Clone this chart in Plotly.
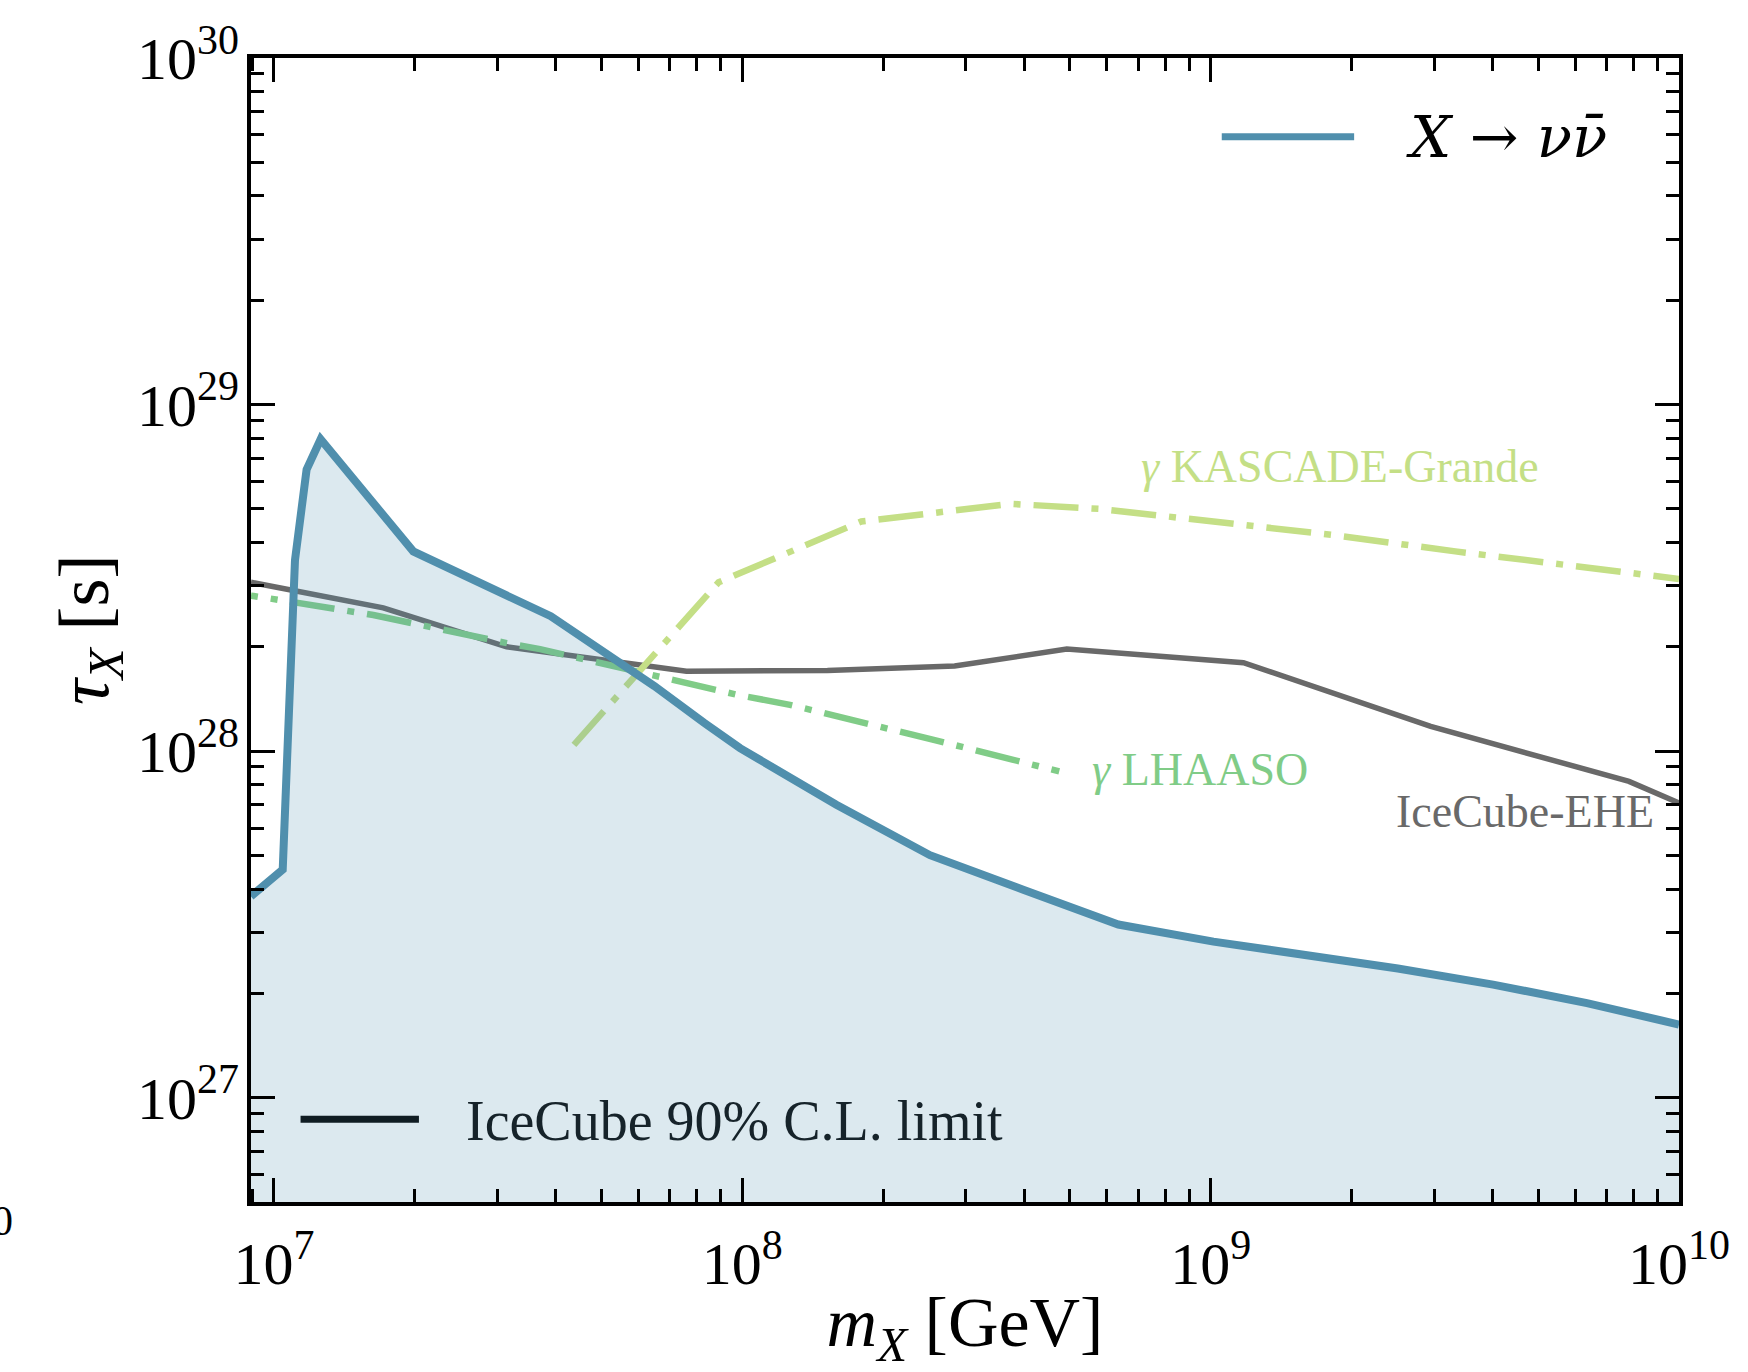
import plotly.graph_objects as go

# ---- data: mass m_X [GeV] and lifetime tau_X [s] ----
nu_mass = [8.93e6, 1.044e7, 1.109e7, 1.174e7, 1.258e7, 1.984e7, 3.90e7, 6.49e7,
           8.30e7, 9.89e7, 1.588e8, 2.516e8, 3.98e8, 6.35e8, 1.014e9, 1.685e9,
           2.51e9, 4.01e9, 6.36e9, 1.0e10]
nu_tau = [3.81e27, 4.55e27, 3.56e28, 6.49e28, 7.94e28, 3.77e28, 2.45e28, 1.54e28,
          1.205e28, 1.02e28, 7.0e27, 5.01e27, 3.98e27, 3.16e27, 2.82e27, 2.56e27,
          2.36e27, 2.12e27, 1.875e27, 1.626e27]

ehe_mass = [8.93e6, 1.712e7, 3.14e7, 7.60e7, 1.52e8, 2.84e8, 4.93e8, 1.175e9,
            2.95e9, 7.82e9, 1.0e10]
ehe_tau = [3.07e28, 2.59e28, 2.0e28, 1.70e28, 1.71e28, 1.76e28, 1.97e28, 1.80e28,
           1.178e28, 8.18e27, 7.08e27]

lhaaso_dot_mass = [8.93e6, 1.082e7]
lhaaso_dot_tau = [2.81e28, 2.70e28]
lhaaso_mass = [1.082e7, 1.63e7, 3.14e7, 3.70e7, 9.73e7, 1.264e8, 2.55e8, 4.75e8]
lhaaso_tau = [2.70e28, 2.47e28, 2.05e28, 1.97e28, 1.455e28, 1.36e28, 1.08e28, 8.74e27]

kascade_mass = [4.37e7, 8.90e7, 1.796e8, 3.75e8, 5.80e8, 1.81e9, 3.33e9, 1.0e10]
kascade_tau = [1.043e28, 3.07e28, 4.60e28, 5.17e28, 5.0e28, 4.21e28, 3.77e28, 3.14e28]

x_ticks = [1e7, 1e8, 1e9, 1e10]
x_tick_text = ["10<sup>7</sup>", "10<sup>8</sup>", "10<sup>9</sup>", "10<sup>10</sup>"]
y_ticks = [1e27, 1e28, 1e29, 1e30]
y_tick_text = ["10<sup>27</sup>", "10<sup>28</sup>", "10<sup>29</sup>", "10<sup>30</sup>"]

# ---- styles ----
FONT = "Liberation Serif"
MATH_FONT = "DejaVu Serif"
BLUE = "#508fad"
GRAY = "#696969"
LHAASO_GREEN = "#80cc87"
KASCADE_GREEN = "#c4df86"
DASHDOT = "45px,13px,7px,13px"

fig = go.Figure()

fig.add_trace(go.Scatter(x=ehe_mass, y=ehe_tau, mode="lines",
                         line=dict(color=GRAY, width=5.5), showlegend=False))
fig.add_trace(go.Scatter(x=lhaaso_dot_mass, y=lhaaso_dot_tau, mode="lines",
                         line=dict(color=LHAASO_GREEN, width=6.5, dash="7px,13px"),
                         showlegend=False))
fig.add_trace(go.Scatter(x=lhaaso_mass, y=lhaaso_tau, mode="lines",
                         line=dict(color=LHAASO_GREEN, width=6.5, dash=DASHDOT),
                         showlegend=False))
fig.add_trace(go.Scatter(x=kascade_mass, y=kascade_tau, mode="lines",
                         line=dict(color=KASCADE_GREEN, width=6.5, dash=DASHDOT),
                         showlegend=False))

# translucent region below the neutrino-channel limit
floor_tau = 1e26
fig.add_trace(go.Scatter(x=[nu_mass[0], nu_mass[-1]], y=[floor_tau, floor_tau],
                         mode="lines", line=dict(width=0), showlegend=False,
                         hoverinfo="skip"))
fig.add_trace(go.Scatter(x=nu_mass, y=nu_tau, mode="lines", line=dict(width=0),
                         fill="tonexty", fillcolor="rgba(80,143,173,0.2)",
                         showlegend=False, hoverinfo="skip"))
fig.add_trace(go.Scatter(x=nu_mass, y=nu_tau, mode="lines",
                         line=dict(color=BLUE, width=8), showlegend=False))


def minor_vals(lo, hi):
    return [float(k) * 10.0 ** e for e in range(lo, hi) for k in range(2, 10)]


axis_common = dict(
    type="log", tickmode="array", ticks="inside", ticklen=24, tickwidth=3,
    tickcolor="black", mirror="allticks", showline=True, linewidth=4,
    linecolor="black", showgrid=False, zeroline=False,
    tickfont=dict(family=FONT, size=60, color="black"),
)

fig.update_xaxes(
    **axis_common, range=[6.951, 10], tickvals=x_ticks, ticktext=x_tick_text,
    ticklabelstandoff=6,
    minor=dict(tickvals=minor_vals(6, 10), ticks="inside", ticklen=13,
               tickwidth=3, tickcolor="black", showgrid=False),
    title=dict(text="<i>m</i><sub><i>X</i></sub> [GeV]",
               font=dict(family=FONT, size=70, color="black"), standoff=8),
)
fig.update_yaxes(
    **axis_common, range=[26.699, 30], tickvals=y_ticks, ticktext=y_tick_text,
    ticklabelstandoff=-4,
    minor=dict(tickvals=minor_vals(26, 30), ticks="inside", ticklen=13,
               tickwidth=3, tickcolor="black", showgrid=False),
)

# legend keys
fig.add_shape(type="line", xref="paper", yref="paper", x0=0.6798, x1=0.7725,
              y0=0.9312, y1=0.9312, line=dict(color=BLUE, width=7), layer="above")
fig.add_shape(type="line", xref="paper", yref="paper", x0=0.0347, x1=0.1176,
              y0=0.0723, y1=0.0723, line=dict(color="black", width=7), layer="below")

annotations = [
    # y-axis title
    dict(text="<i>τ</i><sub><i>X</i></sub> [s]", xref="paper", yref="paper",
         x=(89 - 251) / 1428, y=0.5, xanchor="center", yanchor="middle",
         textangle=-90, font=dict(family=FONT, size=72, color="black")),
    dict(text="<i>X</i> → <i>νν̄</i>", xref="paper", yref="paper",
         x=0.8071, y=0.931, xanchor="left", yanchor="middle",
         font=dict(family=MATH_FONT, size=58, color="black")),
    dict(text="IceCube 90% C.L. limit", xref="paper", yref="paper",
         x=0.1491, y=0.0708, xanchor="left", yanchor="middle",
         font=dict(family=FONT, size=56, color="#16232a")),
    dict(text="<i>γ</i> KASCADE-Grande", xref="x", yref="y", x=8.847, y=28.8203,
         xanchor="left", yanchor="middle",
         font=dict(family=FONT, size=46, color=KASCADE_GREEN)),
    dict(text="<i>γ</i> LHAASO", xref="x", yref="y", x=8.7425, y=27.9464,
         xanchor="left", yanchor="middle",
         font=dict(family=FONT, size=46, color=LHAASO_GREEN)),
    dict(text="IceCube-EHE", xref="x", yref="y", x=9.951, y=27.8252,
         xanchor="right", yanchor="middle",
         font=dict(family=FONT, size=46, color=GRAY)),
    # neighbouring panel's tick label, cut by the page edge
    dict(text="10<sup>10</sup>", xref="paper", yref="paper",
         x=(15 - 251) / 1428, y=(1202 - 1196) / 1144, xanchor="right", yanchor="top",
         font=dict(family=FONT, size=60, color="black")),
]
for a in annotations:
    a["showarrow"] = False
fig.update_layout(annotations=annotations)

fig.update_layout(
    width=1748, height=1372,
    margin=dict(l=251, r=69, t=58, b=170, autoexpand=False),
    paper_bgcolor="white", plot_bgcolor="white",
    font=dict(family=FONT, color="black"),
    showlegend=False,
)

fig.write_html("out.html")
